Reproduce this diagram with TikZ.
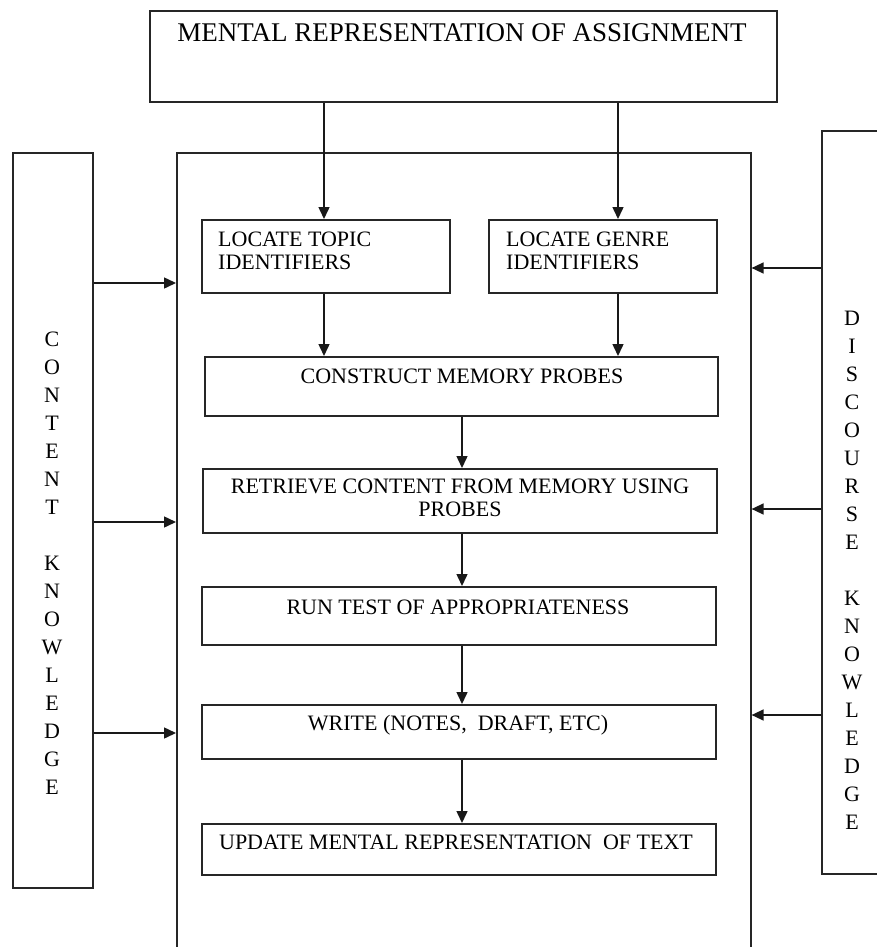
\documentclass[tikz,border=0pt]{standalone}
\usepackage{fontspec}
\setmainfont{Liberation Serif}
\usetikzlibrary{arrows.meta}
\begin{document}
\begin{tikzpicture}[x=1pt,y=-1pt,
  box/.style={draw=black!85, line width=1.6pt, inner sep=0pt, anchor=north west},
  lbl/.style={inner sep=0pt, font=\fontsize{22}{23}\selectfont},
  vlbl/.style={inner sep=0pt, align=center, font=\fontsize{22}{28}\selectfont},
  arr/.style={draw=black!90, line width=1.5pt, -{Triangle[length=12pt,width=11pt]}}]
\useasboundingbox (0,0) rectangle (877,947);
\clip (0,0) rectangle (877,947);

% outer frames
\node[box, minimum width=627, minimum height=91] (title) at (149,10) {};
\node[box, minimum width=574, minimum height=830] (work) at (176,152) {};
\node[box, minimum width=80, minimum height=735] (content) at (12,152) {};
\node[box, minimum width=80, minimum height=743] (discourse) at (821,130) {};

\node[lbl, font=\fontsize{27}{30}\selectfont] at (462,33) {MENTAL REPRESENTATION OF ASSIGNMENT};

% process steps
\node[box, minimum width=248, minimum height=73] (topic) at (201,219) {};
\node[box, minimum width=228, minimum height=73] (genre) at (488,219) {};
\node[box, minimum width=513, minimum height=59] (probes) at (204,356) {};
\node[box, minimum width=514, minimum height=64] (retrieve) at (202,468) {};
\node[box, minimum width=514, minimum height=58] (test) at (201,586) {};
\node[box, minimum width=514, minimum height=54] (write) at (201,704) {};
\node[box, minimum width=514, minimum height=51] (update) at (201,823) {};

\node[lbl, anchor=west, align=left] at (218,251) {LOCATE TOPIC\\IDENTIFIERS};
\node[lbl, anchor=west, align=left] at (506,251) {LOCATE GENRE\\IDENTIFIERS};
\node[lbl] at (462,376) {CONSTRUCT MEMORY PROBES};
\node[lbl, align=center] at (460,498) {RETRIEVE CONTENT FROM MEMORY USING\\PROBES};
\node[lbl] at (458,607) {RUN TEST OF APPROPRIATENESS};
\node[lbl] at (458,725) {WRITE (NOTES,\ \ DRAFT, ETC)};
\node[lbl] at (456,842) {UPDATE MENTAL REPRESENTATION\ \ OF TEXT};

% side labels
\node[vlbl] at (52,563) {C\\O\\N\\T\\E\\N\\T\\[28pt]K\\N\\O\\W\\L\\E\\D\\G\\E};
\node[vlbl] at (852,570) {D\\I\\S\\C\\O\\U\\R\\S\\E\\[28pt]K\\N\\O\\W\\L\\E\\D\\G\\E};

% connectors
\coordinate (lx) at (324,0);
\coordinate (rx) at (618,0);
\coordinate (mx) at (462,0);
\draw[arr] (title.south -| lx) -- (topic.north -| lx);
\draw[arr] (title.south -| rx) -- (genre.north -| rx);
\draw[arr] (topic.south -| lx) -- (probes.north -| lx);
\draw[arr] (genre.south -| rx) -- (probes.north -| rx);
\draw[arr] (probes.south -| mx) -- (retrieve.north -| mx);
\draw[arr] (retrieve.south -| mx) -- (test.north -| mx);
\draw[arr] (test.south -| mx) -- (write.north -| mx);
\draw[arr] (write.south -| mx) -- (update.north -| mx);

\coordinate (c1) at (0,283);
\coordinate (c2) at (0,522);
\coordinate (c3) at (0,733);
\draw[arr] (content.east |- c1) -- (work.west |- c1);
\draw[arr] (content.east |- c2) -- (work.west |- c2);
\draw[arr] (content.east |- c3) -- (work.west |- c3);

\coordinate (d1) at (0,268);
\coordinate (d2) at (0,509);
\coordinate (d3) at (0,715);
\draw[arr] (discourse.west |- d1) -- (work.east |- d1);
\draw[arr] (discourse.west |- d2) -- (work.east |- d2);
\draw[arr] (discourse.west |- d3) -- (work.east |- d3);
\end{tikzpicture}
\end{document}
